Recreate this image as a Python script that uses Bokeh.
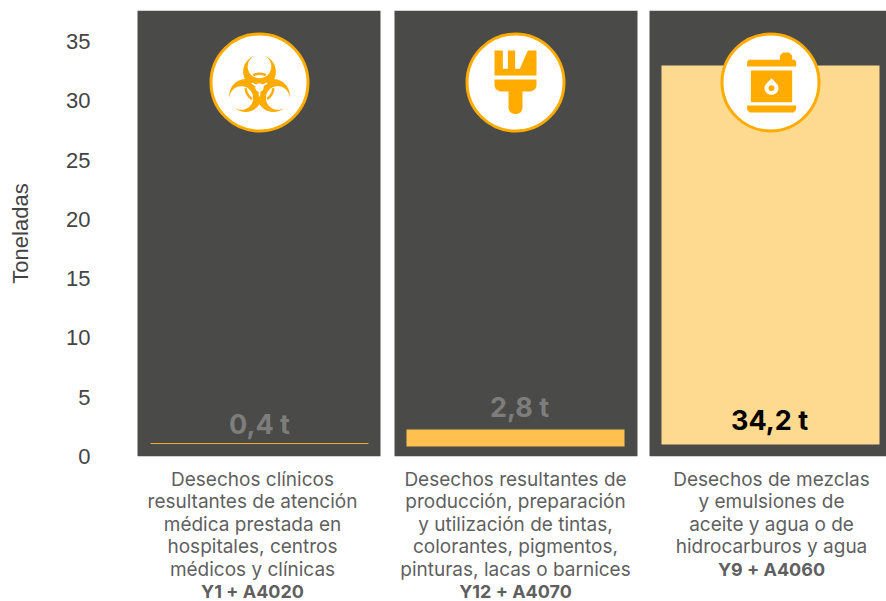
import numpy as np
from bokeh.plotting import figure
from bokeh.models import Range1d, FixedTicker
from bokeh.core.properties import value
from bokeh.embed import file_html
from bokeh.resources import INLINE

# ---- data ----
tick_values = [0, 5, 10, 15, 20, 25, 30, 35]
data_labels = ["0,4 t", "2,8 t", "34,2 t"]
bar_tops = [1.13, 2.28, 32.98]
bar_bottoms = [1.05, 0.84, 1.01]
bar_colors = ["#f0ac2e", "#fec04e", "#fed990"]
label_colors = ["#7d7d7c", "#7d7d7c", "#000000"]
caption_lines = [
    ["Desechos clínicos", "resultantes de atención", "médica prestada en", "hospitales, centros", "médicos y clínicas"],
    ["Desechos resultantes de", "producción, preparación", "y utilización de tintas,", "colorantes, pigmentos,", "pinturas, lacas o barnices"],
    ["Desechos de mezclas", "y emulsiones de", "aceite y agua o de", "hidrocarburos y agua"],
]
codes = ["Y1 + A4020", "Y12 + A4070", "Y9 + A4060"]

# ---- layout (page pixels) ----
PW, PH = 886, 601
PX_PER_UNIT = 11.857
Y0 = 456
YT = 10
FRAME_LEFT = 100
def Y(py):
    return (Y0 - py) / PX_PER_UNIT

panel_l = [137, 394, 649]
panel_w = 243
bar_l = [150, 406, 661]
bar_w = 218
icon_cx = [259, 515, 770]
icon_cy = 82
label_cx = [259, 519, 769]
label_py = [424, 407, 420]
cap_cx = [252, 515, 771]
cap_first = 479
cap_step = 22.4
DARK = "#4a4a48"
ORANGE = "#ffab00"
TEXT = "#5f5f5f"
FONT = "Inter"

p = figure(width=PW, height=PH, output_backend="svg", toolbar_location=None,
           x_range=Range1d(FRAME_LEFT, PW), y_range=Range1d(0, Y(YT)),
           min_border_left=FRAME_LEFT, min_border_right=0, min_border_top=YT, min_border_bottom=PH - Y0,
           outline_line_color=None, background_fill_color="white")
p.xaxis.visible = False
p.xgrid.visible = False
p.ygrid.visible = False
ax = p.yaxis[0]
ax.ticker = FixedTicker(ticks=tick_values)
ax.axis_line_color = None
ax.major_tick_line_color = None
ax.minor_tick_line_color = None
ax.major_tick_in = 0
ax.major_tick_out = 0
ax.major_label_text_font = "Liberation Sans"
ax.major_label_text_font_size = "22px"
ax.major_label_text_color = "#444444"
ax.major_label_standoff = 10
ax.axis_label = "Toneladas"
ax.axis_label_text_font = "Liberation Sans"
ax.axis_label_text_font_size = "22px"
ax.axis_label_text_font_style = "normal"
ax.axis_label_text_color = "#444444"
ax.axis_label_standoff = 30

# panels
p.vbar(x=[l + panel_w / 2 for l in panel_l], width=panel_w, bottom=0, top=Y(YT), color=DARK, line_color=None)
# bars
p.vbar(x=[l + bar_w / 2 for l in bar_l], width=bar_w, bottom=bar_bottoms, top=bar_tops,
       fill_color=bar_colors, line_color=None)
# data labels
p.text(x=label_cx, y=[Y(v) for v in label_py], text=data_labels, text_color=label_colors,
       text_font=value(FONT), text_font_style="bold", text_font_size="27px",
       text_align="center", text_baseline="middle")
# captions (below the frame, so on an unclipped level)
xs, ys, ts = [], [], []
bx, by, bt = [], [], []
for i, lines in enumerate(caption_lines):
    for j, t in enumerate(lines):
        xs.append(cap_cx[i]); ys.append(Y(cap_first + j * cap_step)); ts.append(t)
    bx.append(cap_cx[i]); by.append(Y(cap_first + len(lines) * cap_step)); bt.append(codes[i])
p.text(x=xs, y=ys, text=ts, text_color=TEXT, text_font=value(FONT), text_font_size="19px",
       text_align="center", text_baseline="middle", level="annotation")
p.text(x=bx, y=by, text=bt, text_color=TEXT, text_font=value(FONT), text_font_style="bold",
       text_font_size="18px", text_align="center", text_baseline="middle", level="annotation")

# ---- icons: decorative shapes drawn in pixel offsets around each badge ----
p.circle(x=icon_cx, y=[Y(icon_cy)] * 3, radius=48.5, radius_dimension="x",
         fill_color="white", line_color=ORANGE, line_width=3)

def shape(cx, pts, color=ORANGE):
    pts = np.array(pts, dtype=float)
    p.patch(cx + pts[:, 0], Y(icon_cy + pts[:, 1]), fill_color=color, line_color=None)

def arc(cx, cy, r, a0, a1, n=24):
    a = np.radians(np.linspace(a0, a1, n))
    return np.column_stack([cx + r * np.cos(a), cy + r * np.sin(a)])

def rot(pts, deg):
    a = np.radians(deg)
    c, s = np.cos(a), np.sin(a)
    pts = np.asarray(pts)
    return np.column_stack([pts[:, 0] * c - pts[:, 1] * s, pts[:, 0] * s + pts[:, 1] * c])

# biohazard (y grows downward, hub at HUB_Y)
HUB_Y = 5.0
def crescent(deg, R=16.4, D=16.0, r=11.8, d=21.0):
    ty = (R**2 - r**2 - D**2 + d**2) / (2 * (D - d))
    tx = np.sqrt(R**2 - (ty + D)**2)
    a0 = np.degrees(np.arctan2(ty + D, tx))
    b0 = np.degrees(np.arctan2(ty + d, tx))
    outer = arc(0, -D, R, a0, 180 - a0, 60)
    inner = arc(0, -d, r, 180 - b0, b0, 40)
    return rot(np.vstack([outer, inner]), deg) + [0, HUB_Y]

bx0 = icon_cx[0]
for d in (0, 120, 240):
    shape(bx0, crescent(d))
for d in (0, 120, 240):
    seg = np.vstack([arc(0, 0, 15.0, -90 - 27, -90 + 27), arc(0, 0, 12.5, -90 + 27, -90 - 27)])
    shape(bx0, rot(seg, d) + [0, HUB_Y])
shape(bx0, arc(0, HUB_Y, 4.2, 0, 360, 30), "white")
for d in (60, 180, 300):
    gap = np.array([[-1.3, 0], [1.3, 0], [0.6, -9], [-0.6, -9]])
    shape(bx0, rot(gap, d) + [0, HUB_Y], "white")

# brush
def z2(pts, c=(225, 186)):
    return [((x - c[0]) / 3, (y - c[1]) / 3) for x, y in pts]
shape(icon_cx[1], z2([(162, 90), (187, 90), (187, 145), (202, 145), (202, 90), (224, 90), (224, 145), (238, 145),
                      (262, 90), (288, 90), (288, 165), (162, 165)]))
brush = [(162, 177), (288, 177), (288, 196), (284, 206), (272, 213), (246, 213), (246, 262)]
brush += [(225 + 21 * np.cos(a), 262 + 19 * np.sin(a)) for a in np.radians(np.linspace(0, 180, 14))]
brush += [(204, 213), (178, 213), (166, 206), (162, 196)]
shape(icon_cx[1], z2(brush))

# barrel
c3 = (210, 186)
shape(icon_cx[2], z2([(238, 118), (238, 106), (247, 96), (266, 96), (275, 106), (275, 118), (282, 118), (287, 123),
                      (287, 138), (140, 138), (140, 123), (145, 118)], c3))
shape(icon_cx[2], z2([(151, 150), (275, 150), (275, 245), (151, 245)], c3))
shape(icon_cx[2], z2([(140, 255), (287, 255), (287, 268), (280, 276), (147, 276), (140, 268)], c3))
drop = [(213, 173)] + [(213 + 21 * np.cos(a), 203 + 20 * np.sin(a)) for a in np.radians(np.linspace(-40, 220, 30))]
shape(icon_cx[2], z2(drop, c3), "white")
shape(icon_cx[2], z2([(213 + 9 * np.cos(a), 203 + 9 * np.sin(a)) for a in np.linspace(0, 2 * np.pi, 24)], c3))

open("out.html", "w").write(file_html(p, INLINE))
